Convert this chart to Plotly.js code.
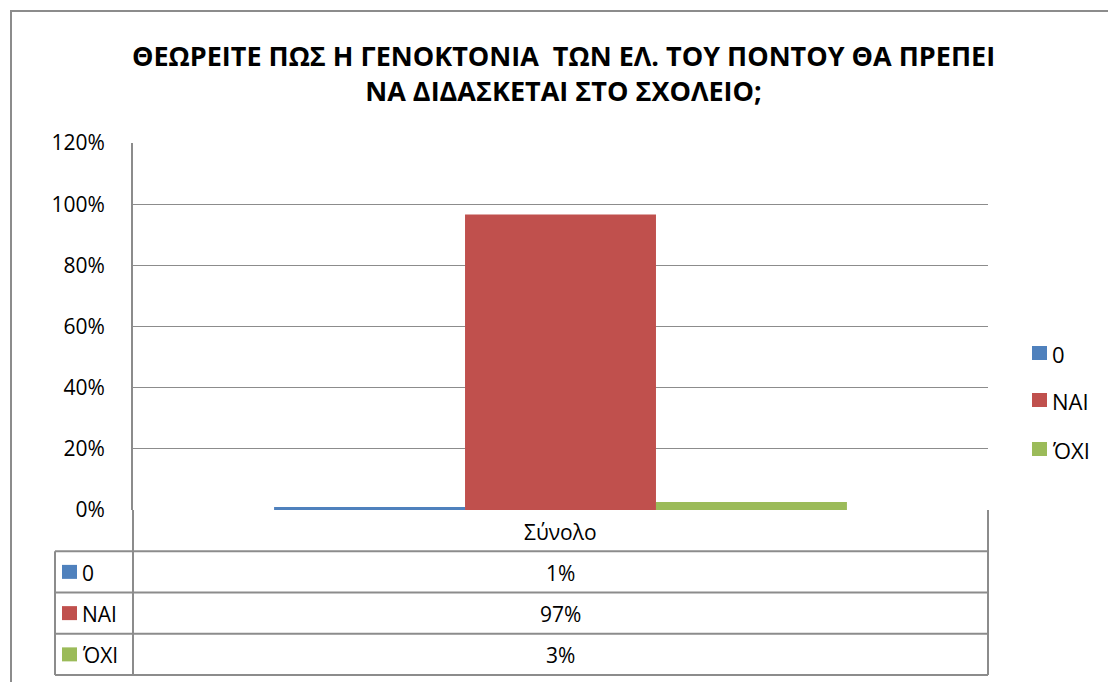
<!DOCTYPE html>
<html>
<head>
<meta charset="utf-8">
<script src="https://cdn.plot.ly/plotly-3.0.1.min.js"></script>
<style>
html,body{margin:0;padding:0;background:#fff;}
#chart{width:1108px;height:682px;}
</style>
</head>
<body>
<div id="chart"></div>
<script>
// ---- data ----
const categories = ['Σύνολο'];
const seriesNames = ['0', 'ΝΑΙ', 'ΌΧΙ'];
const seriesValues = [[0.010], [0.966], [0.026]];
const seriesColors = ['#4F81BD', '#C0504D', '#9BBB59'];
const yTickVals = [0, 0.2, 0.4, 0.6, 0.8, 1.0, 1.2];
const yTickText = ['0%', '20%', '40%', '60%', '80%', '100%', '120%'];
const titleText = 'ΘΕΩΡΕΙΤΕ ΠΩΣ Η ΓΕΝΟΚΤΟΝΙΑ  ΤΩΝ ΕΛ. ΤΟΥ ΠΟΝΤΟΥ ΘΑ ΠΡΕΠΕΙ<br>ΝΑ ΔΙΔΑΣΚΕΤΑΙ ΣΤΟ ΣΧΟΛΕΙΟ;';

// ---- layout geometry ----
const W = 1108, H = 682;
const L = 133, R = 988, T = 143, B = 510;
const rowH = 41.25;
const tableLeft = 55;
const FONT = 'Open Sans, Noto Sans, sans-serif';
const FS = 21;
const gray = '#8c8c8c';

const px = x => (x - L) / (R - L);   // pixel -> paper x
const pyp = y => (B - y) / (B - T);  // pixel -> paper y

const traces = seriesNames.map((n, i) => ({
  type: 'bar',
  name: n,
  x: categories,
  y: seriesValues[i],
  marker: {color: seriesColors[i]},
  hoverinfo: 'skip'
}));

const shapes = [];
const annotations = [];

// outer chart border
shapes.push({type: 'rect', xref: 'paper', yref: 'paper',
  x0: px(11), x1: px(W + 20), y0: pyp(H + 20), y1: pyp(11),
  line: {color: gray, width: 2}, fillcolor: 'rgba(0,0,0,0)', layer: 'below'});

// table horizontal lines
const rowTops = [B, B + rowH, B + 2 * rowH, B + 3 * rowH, B + 4 * rowH];
rowTops.forEach((y, k) => {
  if (k === 0) return;
  shapes.push({type: 'line', xref: 'paper', yref: 'paper',
    x0: px(tableLeft), x1: px(R), y0: pyp(y), y1: pyp(y),
    line: {color: gray, width: 2}});
});
// vertical lines
shapes.push({type: 'line', xref: 'paper', yref: 'paper', x0: px(L), x1: px(L), y0: pyp(B), y1: pyp(rowTops[4]), line: {color: gray, width: 2}});
shapes.push({type: 'line', xref: 'paper', yref: 'paper', x0: px(R), x1: px(R), y0: pyp(B), y1: pyp(rowTops[4]), line: {color: gray, width: 2}});
shapes.push({type: 'line', xref: 'paper', yref: 'paper', x0: px(tableLeft), x1: px(tableLeft), y0: pyp(rowTops[1]), y1: pyp(rowTops[4]), line: {color: gray, width: 2}});

// header row category label
categories.forEach(c => {
  annotations.push({xref: 'paper', yref: 'paper', x: px((L + R) / 2), y: pyp(B + rowH / 2 + 1),
    text: c, showarrow: false, font: {family: FONT, size: FS, color: '#000'}, xanchor: 'center', yanchor: 'middle'});
});

// table rows
seriesNames.forEach((n, i) => {
  const yc = B + rowH * (i + 1) + rowH / 2;
  shapes.push({type: 'rect', xref: 'paper', yref: 'paper',
    x0: px(62), x1: px(77), y0: pyp(yc + 7), y1: pyp(yc - 7),
    fillcolor: seriesColors[i], line: {width: 0}});
  annotations.push({xref: 'paper', yref: 'paper', x: px(80), y: pyp(yc + 1),
    text: n, showarrow: false, font: {family: FONT, size: FS, color: '#000'}, xanchor: 'left', yanchor: 'middle'});
  annotations.push({xref: 'paper', yref: 'paper', x: px((L + R) / 2), y: pyp(yc + 1),
    text: Math.round(seriesValues[i][0] * 100) + '%', showarrow: false,
    font: {family: FONT, size: FS, color: '#000'}, xanchor: 'center', yanchor: 'middle'});
});

// legend
const legY = [353, 400, 449];
seriesNames.forEach((n, i) => {
  shapes.push({type: 'rect', xref: 'paper', yref: 'paper',
    x0: px(1032), x1: px(1047), y0: pyp(legY[i] + 7), y1: pyp(legY[i] - 7),
    fillcolor: seriesColors[i], line: {width: 0}});
  annotations.push({xref: 'paper', yref: 'paper', x: px(1050), y: pyp(legY[i] + 1),
    text: n, showarrow: false, font: {family: FONT, size: 22, color: '#000'}, xanchor: 'left', yanchor: 'middle'});
});

const layout = {
  width: W, height: H,
  margin: {l: L, r: W - R, t: T, b: H - B, pad: 0},
  paper_bgcolor: '#fff', plot_bgcolor: '#fff',
  title: {text: '<b>' + titleText + '</b>', x: (133 + 994) / 2 / W, xanchor: 'center', y: 1 - 66 / H, yanchor: 'middle',
    font: {family: FONT, size: 27, color: '#000'}},
  showlegend: false,
  barmode: 'group', bargap: 0.33, bargroupgap: 0,
  xaxis: {showticklabels: false, ticks: '', showgrid: false, zeroline: false,
    showline: false, fixedrange: true},
  yaxis: {range: [0, 1.2], tickvals: yTickVals, ticktext: yTickText, showgrid: true,
    gridcolor: gray, gridwidth: 1, zeroline: false, showline: true, linecolor: gray, linewidth: 2,
    ticks: '', ticklabelstandoff: 22,
    tickfont: {family: FONT, size: FS, color: '#000'}, fixedrange: true},
  shapes: shapes,
  annotations: annotations
};

Plotly.newPlot('chart', traces, layout, {displayModeBar: false, staticPlot: true});
</script>
</body>
</html>
